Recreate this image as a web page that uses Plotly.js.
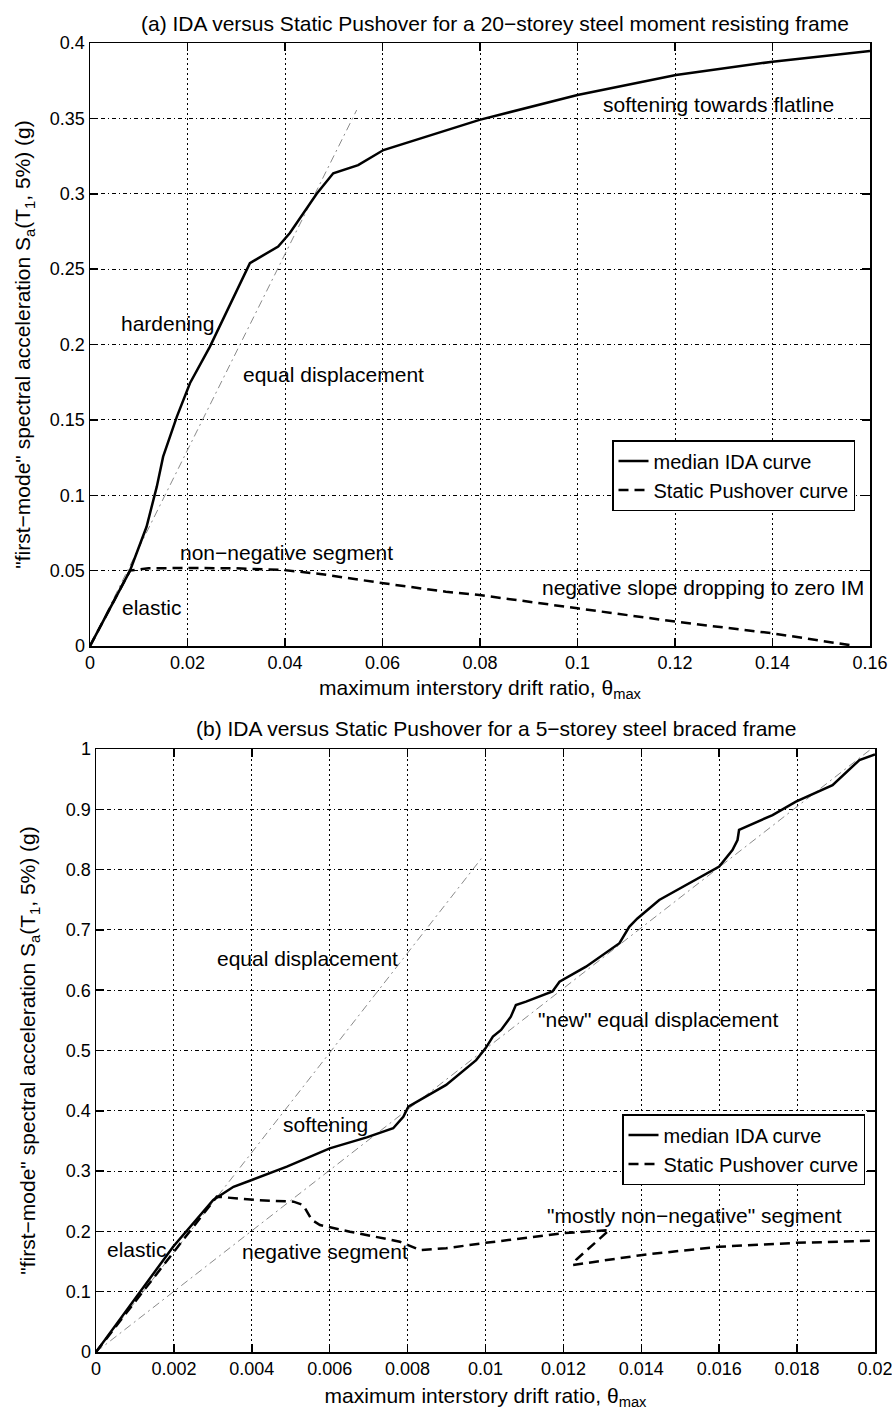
<!DOCTYPE html>
<html>
<head>
<meta charset="utf-8">
<script src="https://cdn.plot.ly/plotly-3.0.1.min.js"></script>
<style>html,body{margin:0;padding:0;background:#fff;}#chart{width:892px;height:1412px;}</style>
</head>
<body>
<div id="chart"></div>
<script>
// ---------- (a) 20-storey steel moment resisting frame ----------
const idaA_x = [0, 0.0041, 0.0082, 0.0116, 0.0137, 0.0150, 0.0178, 0.0205, 0.0246, 0.0328, 0.0386, 0.0410, 0.0465, 0.0499, 0.0550, 0.0602, 0.0730, 0.0799, 0.100, 0.1202, 0.140, 0.160];
const idaA_y = [0, 0.025, 0.050, 0.0791, 0.1057, 0.1256, 0.152, 0.1743, 0.1986, 0.254, 0.265, 0.274, 0.300, 0.3136, 0.319, 0.329, 0.342, 0.349, 0.3655, 0.3788, 0.3876, 0.3947];
const pushA_x = [0, 0.0082, 0.012, 0.0198, 0.030, 0.0397, 0.0472, 0.0602, 0.073, 0.0799, 0.100, 0.1202, 0.140, 0.1565, 0.157];
const pushA_y = [0, 0.050, 0.0515, 0.0518, 0.0515, 0.0504, 0.0478, 0.0416, 0.036, 0.0338, 0.025, 0.0161, 0.0084, 0.0007, 0];
const eqA_x = [0, 0.0547];
const eqA_y = [0, 0.3555];

// ---------- (b) 5-storey steel braced frame ----------
const idaB_x = [0, 0.00198, 0.00301, 0.00353, 0.0040, 0.0049, 0.0060, 0.00695, 0.00763, 0.00789, 0.00802, 0.00899, 0.00976, 0.0100, 0.01019, 0.0104, 0.01065, 0.01078, 0.01104, 0.01172, 0.0119, 0.01258, 0.01344, 0.01369, 0.0139, 0.01446, 0.0160, 0.01634, 0.01647, 0.01651, 0.01737, 0.01797, 0.01891, 0.0196, 0.0200];
const idaB_y = [0, 0.1746, 0.252, 0.274, 0.2853, 0.3074, 0.3377, 0.356, 0.371, 0.390, 0.407, 0.443, 0.484, 0.5036, 0.523, 0.534, 0.556, 0.5755, 0.581, 0.598, 0.614, 0.639, 0.678, 0.705, 0.719, 0.7496, 0.805, 0.8325, 0.849, 0.8657, 0.8905, 0.9126, 0.940, 0.9817, 0.991];
const pushB_x = [0, 0.00301, 0.0031, 0.00412, 0.00507, 0.00532, 0.00554, 0.00575, 0.00652, 0.0078, 0.00832, 0.00899, 0.0100, 0.01198, 0.01318, 0.01232, 0.01224, 0.01403, 0.0160, 0.01797, 0.0200];
const pushB_y = [0, 0.252, 0.2576, 0.252, 0.2493, 0.2438, 0.219, 0.2106, 0.1995, 0.183, 0.169, 0.172, 0.181, 0.197, 0.2023, 0.1526, 0.1443, 0.161, 0.1746, 0.181, 0.1846];
const eqB1_x = [0, 0.00993];
const eqB1_y = [0, 0.8214];
const eqB2_x = [0, 0.0199];
const eqB2_y = [0, 1.0];

// ---------- labels ----------
const titleA = "(a) IDA versus Static Pushover for a 20\u2212storey steel moment resisting frame";
const titleB = "(b) IDA versus Static Pushover for a 5\u2212storey steel braced frame";
const xTitle = "maximum interstory drift ratio, \u03b8<sub>max</sub>";
const yTitle = "\"first\u2212mode\" spectral acceleration S<sub>a</sub>(T<sub>1</sub>, 5%) (g)";
const seriesNames = ["median IDA curve", "Static Pushover curve"];

const xTicksA = [0, 0.02, 0.04, 0.06, 0.08, 0.1, 0.12, 0.14, 0.16];
const xTickTextA = ["0", "0.02", "0.04", "0.06", "0.08", "0.1", "0.12", "0.14", "0.16"];
const yTicksA = [0, 0.05, 0.1, 0.15, 0.2, 0.25, 0.3, 0.35, 0.4];
const yTickTextA = ["0", "0.05", "0.1", "0.15", "0.2", "0.25", "0.3", "0.35", "0.4"];
const xTicksB = [0, 0.002, 0.004, 0.006, 0.008, 0.01, 0.012, 0.014, 0.016, 0.018, 0.02];
const xTickTextB = ["0", "0.002", "0.004", "0.006", "0.008", "0.01", "0.012", "0.014", "0.016", "0.018", "0.02"];
const yTicksB = [0, 0.1, 0.2, 0.3, 0.4, 0.5, 0.6, 0.7, 0.8, 0.9, 1];
const yTickTextB = ["0", "0.1", "0.2", "0.3", "0.4", "0.5", "0.6", "0.7", "0.8", "0.9", "1"];

const notesA = [
  {t: "softening towards flatline", x: 0.129, y: 0.359},
  {t: "hardening", x: 0.0159, y: 0.214},
  {t: "equal displacement", x: 0.0499, y: 0.1798},
  {t: "non\u2212negative segment", x: 0.0404, y: 0.0619},
  {t: "elastic", x: 0.01265, y: 0.0254},
  {t: "negative slope dropping to zero IM", x: 0.1257, y: 0.0387}
];
const notesB = [
  {t: "equal displacement", x: 0.00543, y: 0.653},
  {t: "\"new\" equal displacement", x: 0.01442, y: 0.5506},
  {t: "softening", x: 0.0059, y: 0.3765},
  {t: "elastic", x: 0.00105, y: 0.170},
  {t: "negative segment", x: 0.00588, y: 0.1663},
  {t: "\"mostly non\u2212negative\" segment", x: 0.01536, y: 0.2272}
];

const FONT = "Liberation Sans, Arial, Helvetica, sans-serif";
const TXT = 21;
const solid = {color: "#000", width: 2.5, dash: "solid"};
const dashed = {color: "#000", width: 2.5, dash: "10px,6px"};
const dashdot = {color: "#8a8a8a", width: 1, dash: "8px,4px,2px,4px"};

const traces = [
  {x: eqA_x, y: eqA_y, xaxis: "x", yaxis: "y", mode: "lines", line: dashdot, showlegend: false, hoverinfo: "skip"},
  {x: idaA_x, y: idaA_y, xaxis: "x", yaxis: "y", mode: "lines", line: solid, name: seriesNames[0], legend: "legend"},
  {x: pushA_x, y: pushA_y, xaxis: "x", yaxis: "y", mode: "lines", line: dashed, name: seriesNames[1], legend: "legend"},
  {x: eqB1_x, y: eqB1_y, xaxis: "x2", yaxis: "y2", mode: "lines", line: dashdot, showlegend: false, hoverinfo: "skip"},
  {x: eqB2_x, y: eqB2_y, xaxis: "x2", yaxis: "y2", mode: "lines", line: dashdot, showlegend: false, hoverinfo: "skip"},
  {x: idaB_x, y: idaB_y, xaxis: "x2", yaxis: "y2", mode: "lines", line: solid, name: seriesNames[0], legend: "legend2"},
  {x: pushB_x, y: pushB_y, xaxis: "x2", yaxis: "y2", mode: "lines", line: dashed, name: seriesNames[1], legend: "legend2"}
];

function axisBase() {
  return {
    showline: true, linecolor: "#000", linewidth: 1.5, mirror: "ticks",
    ticks: "inside", ticklen: 8, tickwidth: 1.5, tickcolor: "#000",
    showgrid: true, gridcolor: "#000", gridwidth: 1,
    zeroline: false, tickfont: {size: 18, color: "#000", family: FONT},
    tickmode: "array", fixedrange: true, ticklabeloverflow: "allow"
  };
}
const xa = Object.assign(axisBase(), {domain: [90/892, 870/892], range: [0, 0.16], tickvals: xTicksA, ticktext: xTickTextA, anchor: "y", griddash: "2px,3px",
  title: {text: xTitle, font: {size: TXT, family: FONT, color: "#000"}, standoff: 8}});
const ya = Object.assign(axisBase(), {domain: [1 - 646/1412, 1 - 43/1412], range: [0, 0.4], tickvals: yTicksA, ticktext: yTickTextA, anchor: "x", griddash: "4px,3px,1px,3px",
  title: {text: yTitle, font: {size: TXT, family: FONT, color: "#000"}, standoff: 13}});
const xb = Object.assign(axisBase(), {domain: [96/892, 875/892], range: [0, 0.02], tickvals: xTicksB, ticktext: xTickTextB, anchor: "y2", griddash: "2px,3px",
  title: {text: xTitle, font: {size: TXT, family: FONT, color: "#000"}, standoff: 10}});
const yb = Object.assign(axisBase(), {domain: [1 - 1352/1412, 1 - 749/1412], range: [0, 1], tickvals: yTicksB, ticktext: yTickTextB, anchor: "x2", griddash: "4px,3px,1px,3px",
  title: {text: yTitle, font: {size: TXT, family: FONT, color: "#000"}, standoff: 24}});

const annotations = [];
notesA.forEach(n => annotations.push({text: n.t, x: n.x, y: n.y, xref: "x", yref: "y", showarrow: false, font: {size: TXT, family: FONT, color: "#000"}}));
notesB.forEach(n => annotations.push({text: n.t, x: n.x, y: n.y, xref: "x2", yref: "y2", showarrow: false, font: {size: TXT, family: FONT, color: "#000"}}));
annotations.push({text: titleA, x: 495/892, y: 1 - 23/1412, xref: "paper", yref: "paper", showarrow: false, xanchor: "center", yanchor: "middle", font: {size: TXT, family: FONT, color: "#000"}});
annotations.push({text: titleB, x: 496/892, y: 1 - 728/1412, xref: "paper", yref: "paper", showarrow: false, xanchor: "center", yanchor: "middle", font: {size: TXT, family: FONT, color: "#000"}});

const legendStyle = {bgcolor: "#fff", bordercolor: "#000", borderwidth: 1.5, font: {size: 20, family: FONT, color: "#000"}, xanchor: "right", yanchor: "top", tracegroupgap: 0, itemwidth: 30};

const layout = {
  width: 892, height: 1412,
  margin: {l: 0, r: 0, t: 0, b: 0},
  paper_bgcolor: "#fff", plot_bgcolor: "#fff",
  font: {family: FONT, color: "#000", size: 20},
  xaxis: xa, yaxis: ya, xaxis2: xb, yaxis2: yb,
  legend: Object.assign({}, legendStyle, {x: 855/892, y: 1 - 440/1412}),
  legend2: Object.assign({}, legendStyle, {x: 865/892, y: 1 - 1114/1412}),
  annotations: annotations,
  showlegend: true
};

Plotly.newPlot("chart", traces, layout, {displayModeBar: false, staticPlot: true});
</script>
</body>
</html>
